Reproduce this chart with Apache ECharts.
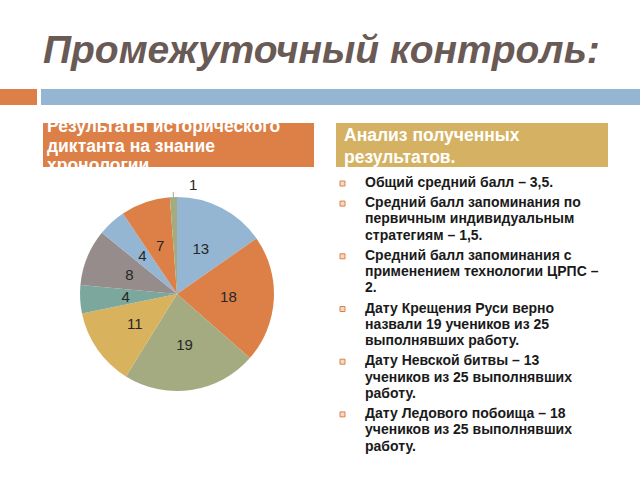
<!DOCTYPE html>
<html><head><meta charset="utf-8">
<script src="https://cdn.jsdelivr.net/npm/echarts@6/dist/echarts.min.js"></script>
<style>html,body{margin:0;padding:0;background:#fff}#c{width:640px;height:480px}</style>
</head><body><div id="c"></div>
<script>
// ---- data ----
const titleText = 'Промежуточный контроль:';
const leftHeader = ['Результаты исторического', 'диктанта на знание', 'хронологии'];
const rightHeader = ['Анализ полученных', 'результатов.'];
const sliceNames = ['Сектор 1', 'Сектор 2', 'Сектор 3', 'Сектор 4', 'Сектор 5', 'Сектор 6', 'Сектор 7', 'Сектор 8', 'Сектор 9'];
const sliceValues = [13, 18, 19, 11, 4, 8, 4, 7, 1];
const sliceColors = ['#94B6D2', '#DD8047', '#A5AB81', '#D8B25C', '#7BA79D', '#968C8C', '#94B6D2', '#DD8047', '#A5AB81'];
const bulletParagraphs = [
  ['Общий средний балл – 3,5.'],
  ['Средний балл запоминания по', 'первичным индивидуальным', 'стратегиям – 1,5.'],
  ['Средний балл запоминания с', 'применением технологии ЦРПС –', '2.'],
  ['Дату Крещения Руси верно', 'назвали 19 учеников из 25', 'выполнявших работу.'],
  ['Дату Невской битвы – 13', 'учеников из 25 выполнявших', 'работу.'],
  ['Дату Ледового побоища – 18', 'учеников из 25 выполнявших', 'работу.']
];

// ---- build ----
const FONT = '"Liberation Sans", Arial, sans-serif';
const graphics = [];
// decorative bars
graphics.push({type:'rect', shape:{x:0,y:89,width:37,height:16}, style:{fill:'#DD8047'}});
graphics.push({type:'rect', shape:{x:41,y:89,width:599,height:16}, style:{fill:'#94B6D2'}});
// header boxes
graphics.push({type:'rect', shape:{x:43,y:123,width:271,height:44}, style:{fill:'#DD8047'}});
graphics.push({type:'rect', shape:{x:336,y:123,width:272,height:44}, style:{fill:'#D5B263'}});
leftHeader.forEach((t,i)=>{
  graphics.push({type:'text', x:47, y:126+i*19.5, style:{text:t, fill:'#fff', font:'bold 17.5px '+FONT, textVerticalAlign:'middle'}});
});
// masks for clipped header text
graphics.push({type:'rect', shape:{x:40,y:108,width:280,height:15}, style:{fill:'#fff'}});
graphics.push({type:'rect', shape:{x:40,y:167,width:280,height:10}, style:{fill:'#fff'}});
rightHeader.forEach((t,i)=>{
  graphics.push({type:'text', x:344, y:134.5+i*22, style:{text:t, fill:'#fff', font:'bold 17.5px '+FONT, textVerticalAlign:'middle'}});
});
// bullets
let y = 182;
const lineH = 16.3, gap = 3.8;
bulletParagraphs.forEach(par=>{
  graphics.push({type:'rect', shape:{x:340,y:y-1,width:5,height:5}, style:{fill:'#F3D9C8', stroke:'#DD8047', lineWidth:1}});
  par.forEach(line=>{
    graphics.push({type:'text', x:365, y:y, style:{text:line, fill:'#1a1a1a', font:'bold 14px '+FONT, textVerticalAlign:'middle'}});
    y += lineH;
  });
  y += gap;
});

const data = sliceValues.map((v,i)=>{
  const d = {name:sliceNames[i], value:v, itemStyle:{color:sliceColors[i]}};
  if (i === sliceValues.length-1) {
    d.label = {position:'outside', offset:[29,-8]};
    d.labelLine = {show:true, length:5, length2:0, lineStyle:{color:'#A5AB81', width:1}};
  }
  return d;
});

const chart = echarts.init(document.getElementById('c'), null, {renderer:'svg'});
chart.setOption({
  animation:false,
  backgroundColor:'#fff',
  title:{text:titleText, left:38, top:25, textStyle:{fontFamily:FONT, fontSize:39, fontWeight:'bold', fontStyle:'italic', color:'#6A5A55'}},
  graphic:graphics,
  series:[{
    type:'pie',
    center:[177,294],
    radius:[0,97],
    startAngle:90,
    clockwise:true,
    avoidLabelOverlap:false,
    itemStyle:{borderWidth:0},
    label:{show:true, position:'inside', formatter:'{c}', color:'#262626', fontFamily:FONT, fontSize:15},
    labelLine:{show:false},
    data:data
  }]
});
</script></body></html>
